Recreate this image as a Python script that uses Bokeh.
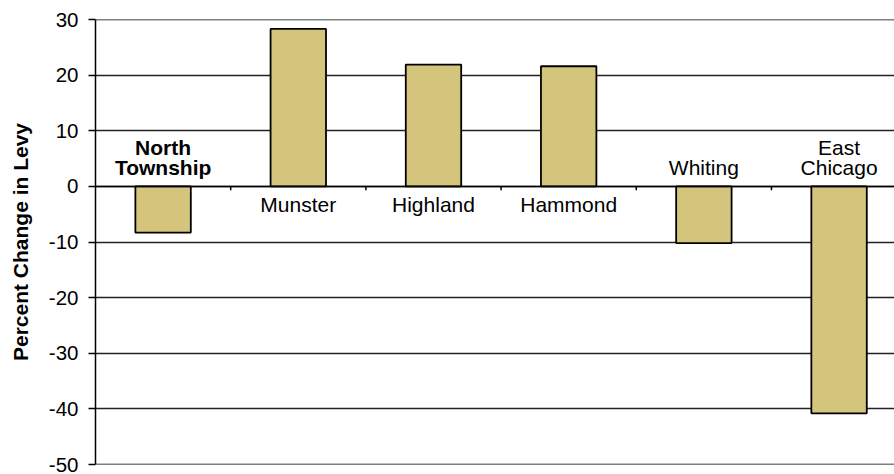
from bokeh.plotting import figure
from bokeh.models import ColumnDataSource, Range1d, Span
from bokeh.core.properties import value
from bokeh.embed import file_html
from bokeh.resources import INLINE

# ---- data ----
categories = ["North Township", "Munster", "Highland", "Hammond", "Whiting", "East Chicago"]
label_lines = [["North", "Township"], ["Munster"], ["Highland"], ["Hammond"], ["Whiting"], ["East", "Chicago"]]
values = [-8.3, 28.3, 21.9, 21.6, -10.2, -40.8]
bold_categories = ["North Township"]
y_ticks = [-50, -40, -30, -20, -10, 0, 10, 20, 30]
y_tick_labels = ["-50", "-40", "-30", "-20", "-10", "0", "10", "20", "30"]
y_label = "Percent Change in Levy"

FONT = "Liberation Sans"
BAR_COLOR = "#D5C47B"

n = len(categories)
centers = [i + 0.5 for i in range(n)]
boundaries = [i for i in range(1, n)]

p = figure(width=894, height=474, output_backend="svg", toolbar_location=None,
           x_range=Range1d(0, 5.91), y_range=Range1d(y_ticks[0], y_ticks[-1]),
           x_axis_type=None,
           min_border_left=95, min_border_right=0, min_border_top=19, min_border_bottom=10)
p.outline_line_color = None
p.background_fill_color = "white"
p.border_fill_color = "white"

# y axis
ax = p.yaxis[0]
ax.ticker = y_ticks
ax.major_label_overrides = {t: s for t, s in zip(y_ticks, y_tick_labels)}
ax.major_label_text_font = FONT
ax.major_label_text_font_size = "20.5px"
ax.major_label_text_color = "black"
ax.major_tick_out = 7
ax.major_tick_in = 0
ax.minor_tick_out = 0
ax.minor_tick_in = 0
ax.major_tick_line_color = "black"
ax.major_tick_line_width = 1.5
ax.axis_line_color = "black"
ax.axis_line_width = 1.5
ax.major_label_standoff = 10
ax.axis_label = y_label
ax.axis_label_text_font = FONT
ax.axis_label_text_font_size = "21px"
ax.axis_label_text_font_style = "bold"
ax.axis_label_text_color = "black"
ax.axis_label_standoff = 14

p.ygrid.ticker = y_ticks
p.ygrid.grid_line_color = "#222222"
p.ygrid.grid_line_width = 1.3

for loc in (y_ticks[0], 0, y_ticks[-1]):
    p.add_layout(Span(location=loc, dimension="width", line_color="black", line_width=1.5))

# bars
src = ColumnDataSource(dict(x=centers, top=values, cat=categories))
p.vbar(x="x", top="top", bottom=0, width=0.41, source=src,
       fill_color=BAR_COLOR, line_color="black", line_width=1.8)

# small ticks on zero line between categories
p.segment(x0=boundaries, y0=[0] * len(boundaries), x1=boundaries, y1=[-0.7] * len(boundaries),
          line_color="black", line_width=1.5)

# category labels
tx, ty, tt, toff, tstyle = [], [], [], [], []
for c, lines, v, cat in zip(centers, label_lines, values, categories):
    style = "bold" if cat in bold_categories else "normal"
    if v < 0:
        for j, line in enumerate(reversed(lines)):
            tx.append(c); ty.append(0); tt.append(line); toff.append(-19 - 20 * j); tstyle.append(style)
    else:
        for j, line in enumerate(lines):
            tx.append(c); ty.append(0); tt.append(line); toff.append(18 + 20 * j); tstyle.append(style)

lsrc = ColumnDataSource(dict(x=tx, y=ty, text=tt, off=toff, style=tstyle))
p.text(x="x", y="y", text="text", y_offset="off", source=lsrc,
       text_align="center", text_baseline="alphabetic",
       text_font=value(FONT), text_font_size="21px", text_font_style="style",
       text_color="black")

open("out.html", "w").write(file_html(p, INLINE))
